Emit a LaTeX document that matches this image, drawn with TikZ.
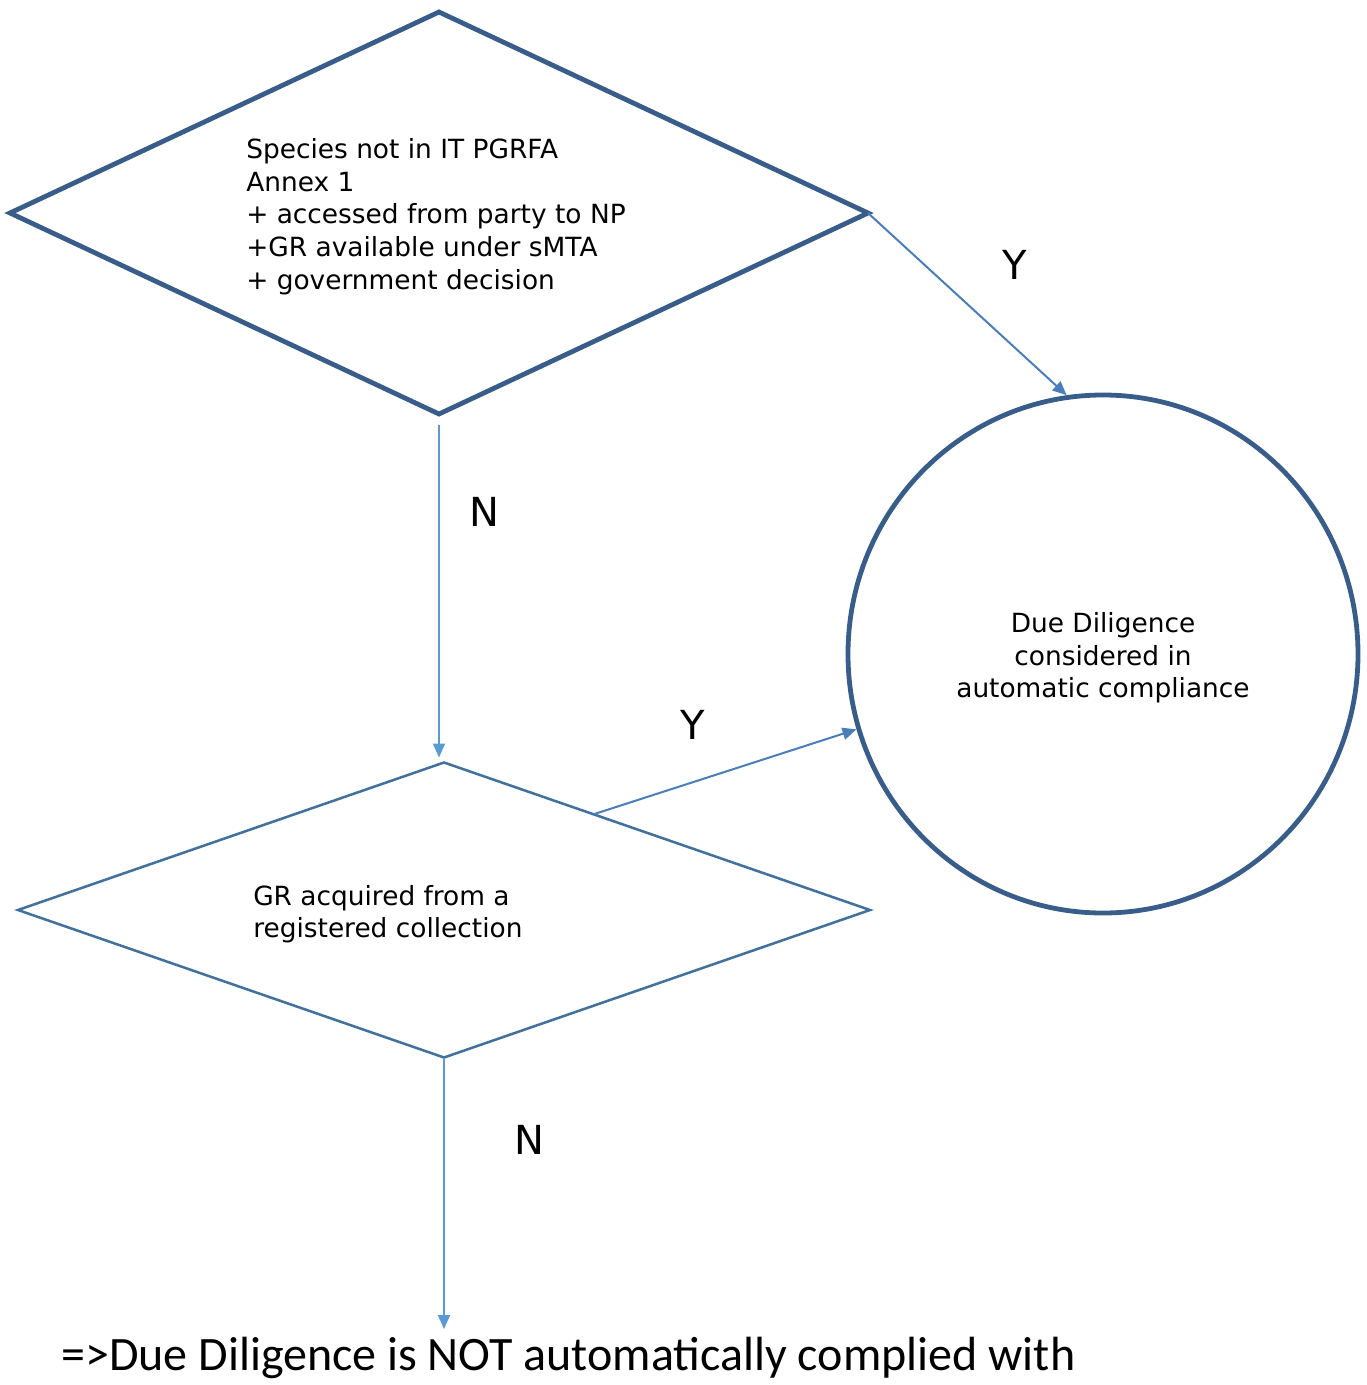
\documentclass[tikz,border=0pt]{standalone}
\usepackage{fontspec}
\setmainfont{DejaVu Sans}
\newfontfamily\calfont{Carlito}
\usetikzlibrary{shapes.geometric,arrows.meta,calc}
\definecolor{dkblue}{HTML}{385D8A}
\definecolor{midblue}{HTML}{41719C}
\definecolor{arblue}{HTML}{4A7EBB}
\definecolor{ltblue}{HTML}{5B9BD5}
\begin{document}
\begin{tikzpicture}[x=0.75pt,y=-0.75pt,
  dia/.style={diamond,draw,inner sep=0pt,outer sep=0pt},
  body/.style={font=\fontsize{19.8}{24.4}\selectfont,align=left,inner sep=0pt},
  yn/.style={font=\fontsize{30}{36}\selectfont,inner sep=0pt},
  arr/.style={line width=1.5pt,-{Triangle[length=10.5pt,width=9pt]}}]
\useasboundingbox (0,0) rectangle (1367,1385);
\node[dia,draw=dkblue,line width=3.6pt,minimum width=858*0.75pt,minimum height=402*0.75pt] (d1) at (439,213) {};
\node[dia,draw=midblue,line width=1.9pt,minimum width=852*0.75pt,minimum height=295*0.75pt] (d2) at (444,910) {};
\node[ellipse,draw=dkblue,line width=3.6pt,inner sep=0pt,minimum width=510*0.75pt,minimum height=518*0.75pt] (c) at (1103,654) {};
\node[body,anchor=base west] (t1) at (246,289) {Species not in IT PGRFA\\Annex 1\\+ accessed from party to NP\\+GR available under sMTA\\+ government decision};
\node[body,align=center] (t2) at (1103,658) {Due Diligence\\considered in\\automatic compliance};
\node[body,anchor=west] (t3) at (253,914) {GR acquired from a\\registered collection};
\node[yn] (y1) at (1015,265) {Y};
\node[yn] (n1) at (484,512) {N};
\node[yn] (y2) at (693,725) {Y};
\node[yn] (n2) at (529,1140) {N};
\node[font=\calfont\fontsize{36}{42}\selectfont,inner sep=0pt,anchor=west] (res) at (61,1358) {=>Due Diligence is NOT automatically complied with};
\coordinate (s3) at ($(d2.north)!0.351!(d2.east)$);
\coordinate (e4) at (444,1329);
\draw[arr,draw=arblue,fill=arblue] (d1.east) -- (c.98.8);
\draw[arr,draw=ltblue,fill=ltblue,shorten <=11*0.75pt,shorten >=5*0.75pt] (d1.south) -- (d1.south |- d2.north);
\draw[arr,draw=arblue,fill=arblue] (s3) -- (c.197.7);
\draw[arr,draw=ltblue,fill=ltblue] (d2.south) -- (e4);
\end{tikzpicture}
\end{document}
